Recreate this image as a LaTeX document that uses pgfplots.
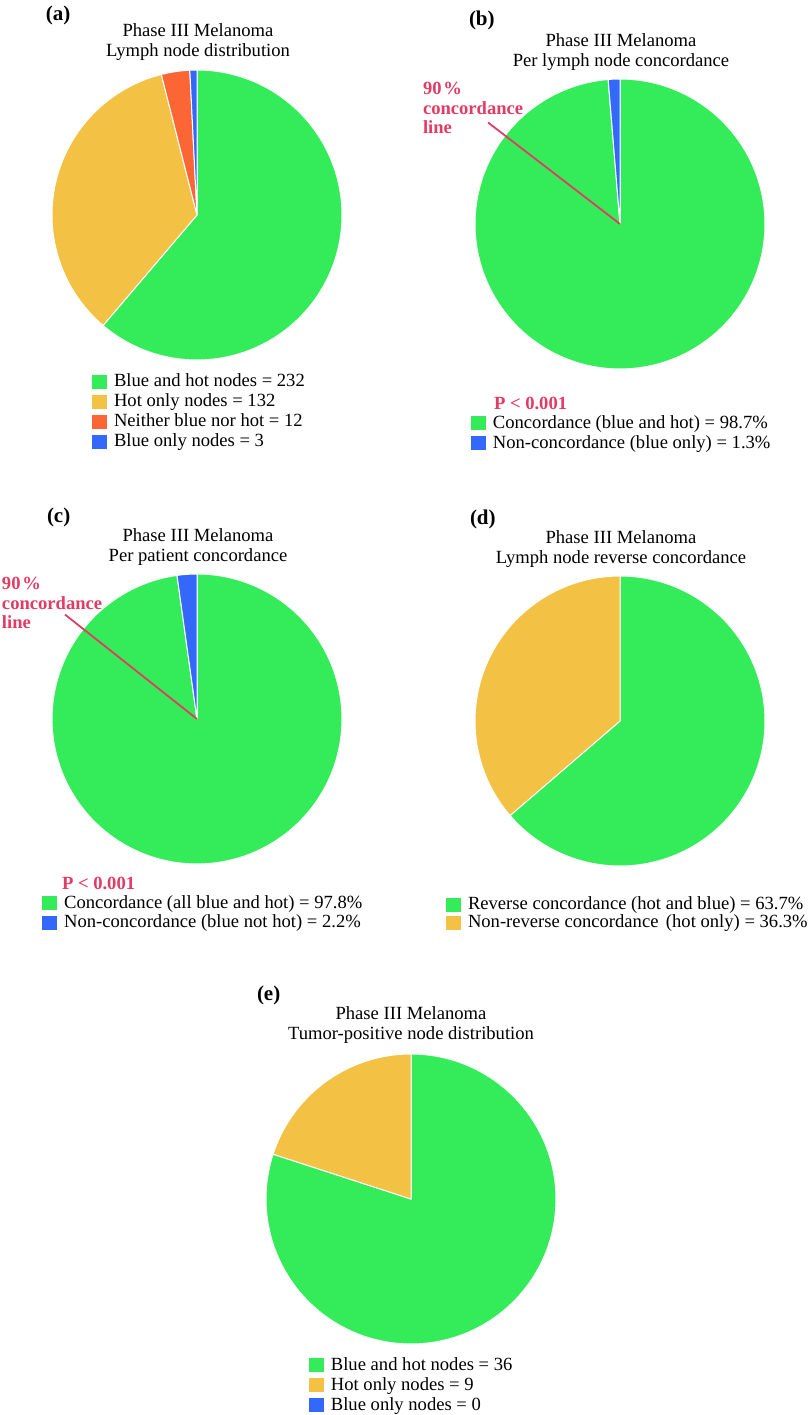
\documentclass[border=0pt]{standalone}
\usepackage{fontspec}
\setmainfont{Liberation Serif}
\usepackage{pgfplots}
\pgfplotsset{compat=1.18}

\definecolor{cgreen}{RGB}{52,236,90}
\definecolor{cyellow}{RGB}{243,194,68}
\definecolor{corange}{RGB}{252,102,52}
\definecolor{cblue}{RGB}{52,104,250}
\definecolor{cred}{RGB}{226,60,100}

\newcommand\tfont{\fontsize{9.3}{10}\selectfont}
\newcommand\lfont{\fontsize{9.3}{10}\selectfont}
\newcommand\rfont{\fontsize{9.3}{9.75}\selectfont\bfseries}
\newcommand\pfont{\fontsize{10.5}{12}\selectfont\bfseries}

% one slice: start (cumulated value), value, total, colour; clockwise from 12 o'clock
\newcommand\slice[4]{%
  \pgfmathsetmacro\angA{90-360*((#1)/(#3))}%
  \pgfmathsetmacro\angB{90-360*(((#1)+(#2))/(#3))}%
  \edef\doslice{\noexpand\addplot[fill=#4, draw=white, line width=0.5pt,
    domain=\angB:\angA, samples=150] ({cos(x)},{sin(x)}) -- (axis cs:0,0) -- cycle;}%
  \doslice
}

\pgfplotsset{
  pie/.style={hide axis, scale only axis, width=145pt, height=145pt,
    xmin=-1, xmax=1, ymin=-1, ymax=1, clip=false, anchor=center,
    legend image code/.code={\path[##1, draw=none] (0pt,-3.6pt) rectangle (7.5pt,3.6pt);},
    legend cell align=left,
    legend style={draw=none, fill=none, inner sep=0pt, outer sep=0pt,
      anchor=north west, font=\lfont, row sep=0pt, column sep=3.5pt,
      nodes={inner sep=0pt, text height=7.5pt, text depth=2.5pt}}},
}

\begin{document}
\begin{tikzpicture}
\begin{scope}[x=0.5pt, y=-0.5pt, every node/.style={inner sep=0pt, outer sep=0pt}]
\path (0,0) rectangle (810,1415);
% (a)
\node[anchor=west, font=\pfont] at (46,15) {(a)};
\node[align=center, font=\tfont] at (198,42) {Phase III Melanoma\\Lymph node distribution};
% (b)
\node[anchor=west, font=\pfont] at (469,20) {(b)};
\node[align=center, font=\tfont] at (621,52) {Phase III Melanoma\\Per lymph node concordance};
\node[anchor=west, align=left, font=\rfont, text=cred] at (423,108)
  {90\kern0.1em\%\\concordance\\line};
\node[anchor=west, font=\rfont, text=cred] at (494,403) {P < 0.001};
% (c)
\node[anchor=west, font=\pfont] at (47,517) {(c)};
\node[align=center, font=\tfont] at (198,547) {Phase III Melanoma\\Per patient concordance};
\node[anchor=west, align=left, font=\rfont, text=cred] at (2,603)
  {90\kern0.1em\%\\concordance\\line};
\node[anchor=west, font=\rfont, text=cred] at (62,883) {P < 0.001};
% (d)
\node[anchor=west, font=\pfont] at (470,519) {(d)};
\node[align=center, font=\tfont] at (621,549) {Phase III Melanoma\\Lymph node reverse concordance};
% (e)
\node[anchor=west, font=\pfont] at (257,995) {(e)};
\node[align=center, font=\tfont] at (411,1025) {Phase III Melanoma\\Tumor-positive node distribution};
\end{scope}

% ---------- (a)
\begin{axis}[pie, at={(98.5pt,-107.5pt)}, legend style={at={(0.138,-0.041)}}]
\slice{0}{232}{379}{cgreen}\addlegendentry{Blue and hot nodes = 232}
\slice{232}{132}{379}{cyellow}\addlegendentry{Hot only nodes = 132}
\slice{364}{12}{379}{corange}\addlegendentry{Neither blue nor hot = 12}
\slice{376}{3}{379}{cblue}\addlegendentry{Blue only nodes = 3}
\end{axis}

% ---------- (b)
\begin{axis}[pie, at={(310pt,-112pt)}, legend style={at={(-0.014,-0.152)}}]
\slice{0}{98.7}{100}{cgreen}\addlegendentry{Concordance (blue and hot) = 98.7\%}
\slice{98.7}{1.3}{100}{cblue}\addlegendentry{Non-concordance (blue only) = 1.3\%}
\addplot[cred, line width=0.9pt, forget plot] coordinates {(-0.91,0.70) (0,0)};
\end{axis}

% ---------- (c)
\begin{axis}[pie, at={(98.5pt,-359.5pt)}, legend style={at={(-0.034,-0.1)}}]
\slice{0}{97.8}{100}{cgreen}\addlegendentry{Concordance (all blue and hot) = 97.8\%}
\slice{97.8}{2.2}{100}{cblue}\addlegendentry{Non-concordance (blue not hot) = 2.2\%}
\addplot[cred, line width=0.9pt, forget plot] coordinates {(-0.91,0.72) (0,0)};
\end{axis}

% ---------- (d)
\begin{axis}[pie, at={(310pt,-360.5pt)},
  legend style={at={(-0.1,-0.103)}, font=\fontsize{9.3}{9}\selectfont,
    nodes={inner sep=0pt, text height=7pt, text depth=2pt}}]
\slice{0}{63.7}{100}{cgreen}\addlegendentry{Reverse concordance (hot and blue) = 63.7\%}
\slice{63.7}{36.3}{100}{cyellow}\addlegendentry{Non-reverse concordance\kern0.15em\ (hot only) = 36.3\%}
\end{axis}

% ---------- (e)
\begin{axis}[pie, at={(205.5pt,-599.5pt)}, legend style={at={(0.148,-0.038)}}]
\slice{0}{36}{45}{cgreen}\addlegendentry{Blue and hot nodes = 36}
\slice{36}{9}{45}{cyellow}\addlegendentry{Hot only nodes = 9}
\addlegendimage{fill=cblue}\addlegendentry{Blue only nodes = 0}
\end{axis}
\end{tikzpicture}
\end{document}
